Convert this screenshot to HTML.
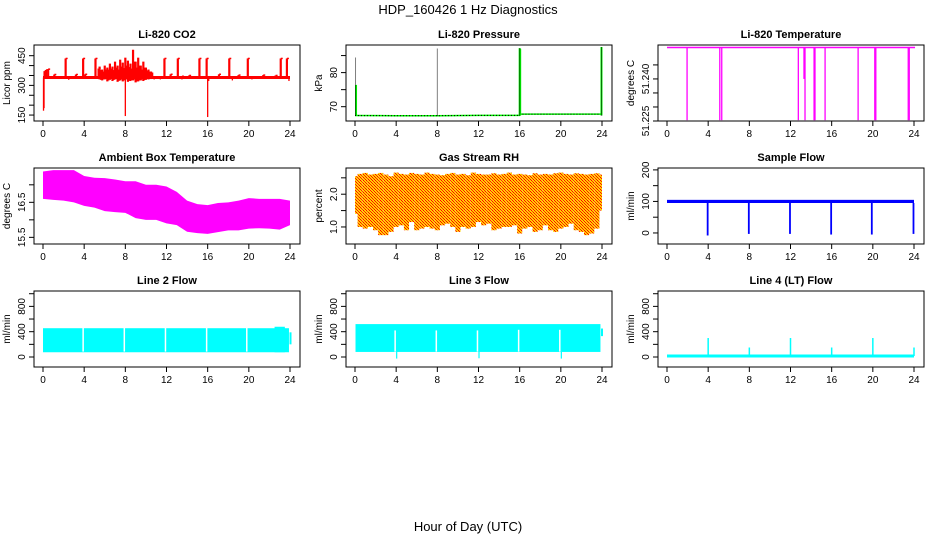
<!DOCTYPE html>
<html><head><meta charset="utf-8"><style>
html,body{margin:0;padding:0;background:#fff;}
svg{display:block;font-family:"Liberation Sans",Arial,sans-serif;}
</style></head><body>
<svg id="chart" width="936" height="540" viewBox="0 0 936 540" xmlns="http://www.w3.org/2000/svg">
<defs>
<pattern id="rhpat" width="3" height="3" patternUnits="userSpaceOnUse">
<rect width="3" height="3" fill="#ffd000"/><rect x="0" y="0" width="1" height="1" fill="#ff0000"/><rect x="1" y="1" width="1" height="1" fill="#ff2000"/><rect x="2" y="2" width="1" height="1" fill="#ff0000"/>
</pattern>
</defs>
<text x="468" y="14" text-anchor="middle" font-size="13">HDP_160426  1 Hz Diagnostics</text>
<text x="468" y="531" text-anchor="middle" font-size="13">Hour of Day (UTC)</text>
</svg>
<script>
// ---------- data ----------
const xTickHours = [0,4,8,12,16,20,24];

const co2Base = [340];
const co2SpikeHours = [0.15,0.3,0.5,1.1,2.2,3.2,3.9,4.1,5.1,5.4,6.3,11.8,12.4,13.1,13.5,14.2,15.2,15.9,17.1,18.1,19.0,19.9,21.4,22.6,23.1,23.7];
const co2SpikeValues = [372,378,382,355,436,355,436,356,436,385,376,436,356,436,346,350,436,436,356,436,352,436,352,350,436,436];
const co2DipHours = [0.05,0.1,2.5,5.6,8.0,10.8,11.4,13.5,16.0,16.1,18.4,20.3,23.9];
const co2DipValues = [172,185,328,328,145,330,330,330,140,322,325,330,322];
const co2NoiseHours = [5.5,5.75,6,6.25,6.5,6.75,7,7.25,7.5,7.75,8,8.25,8.5,8.75,9,9.25,9.5,9.75,10,10.25,10.5];
const co2NoiseTop = [395,380,400,390,410,395,420,400,430,415,440,425,410,480,420,440,400,420,390,380,370];
const co2NoiseBottom = [330,325,330,320,328,322,330,318,325,320,328,318,322,325,315,320,325,322,328,330,332];

const presBaseHours = [0,4,8,12,16,16.1,20,24];
const presBaseValues = [67.4,67.35,67.35,67.45,67.45,67.8,67.8,67.8];
const presSpikeHours = [0.05,8.0,16.0,23.95];
const presSpikeValues = [84.5,87.0,87.2,87.5];
const presGreenHours = [0.1,16.0,16.05,23.95];
const presGreenValues = [76.4,87.2,87.0,87.5];

const tempBase = [51.2512];
const tempDropHours = [1.95,5.13,5.32,12.76,13.31,13.41,14.29,14.38,15.36,18.57,20.19,20.29,23.44,23.54];
const tempDropValues = [51.2253,51.2253,51.2253,51.2253,51.2400,51.2253,51.2253,51.2253,51.2253,51.2253,51.2253,51.2253,51.2253,51.2253];

const ambHours = [0,1,2,3,4,5,6,7,8,9,10,11,12,13,14,15,16,17,18,19,20,21,22,23,24];
const ambUpper = [17.38,17.42,17.42,17.42,17.25,17.2,17.19,17.15,17.1,17.1,17.0,17.0,16.95,16.8,16.55,16.45,16.42,16.48,16.5,16.55,16.62,16.6,16.6,16.6,16.55];
const ambLower = [16.6,16.57,16.55,16.5,16.4,16.35,16.25,16.22,16.2,16.05,16.0,16.0,15.9,15.85,15.66,15.62,15.6,15.65,15.7,15.7,15.75,15.76,15.75,15.72,15.85];

const rhMax = [2.55,2.62,2.65,2.6,2.62,2.65,2.6,2.55,2.66,2.62,2.6,2.65,2.62,2.6,2.66,2.62,2.6,2.58,2.62,2.65,2.6,2.62,2.58,2.66,2.62,2.6,2.6,2.64,2.6,2.62,2.66,2.6,2.62,2.6,2.58,2.64,2.6,2.62,2.6,2.64,2.66,2.62,2.6,2.64,2.62,2.6,2.62,2.64,2.6];
const rhMin = [1.4,1.0,0.95,1.0,0.9,0.75,0.75,0.85,1.0,1.05,0.9,1.15,0.9,0.95,1.0,0.95,0.9,1.05,1.1,1.0,0.85,1.0,0.95,1.0,1.15,1.05,1.1,0.9,0.95,1.0,1.0,1.05,0.8,0.95,1.0,0.85,0.9,1.05,0.9,0.85,0.95,1.0,1.1,0.9,0.85,0.75,0.8,0.95,1.5];

const sfBandTop = [105];
const sfBandBottom = [95];
const sfDropHours = [3.95,7.95,11.95,15.95,19.9,23.95];
const sfDropValues = [-8,-3,-3,-5,-5,-3];

const l2Start = [0]; const l2End = [23.9];
const l2Top = [455]; const l2Bottom = [75];
const l2GapHours = [3.9,7.9,11.9,15.9,19.8];
const l2GapTop = [460,460,460,460,460];
const l2BumpHours = [22.5,23.5]; const l2BumpValue = [478];
const l2TailHour = [24.05]; const l2TailRange = [200,390];

const l3Start = [0.05]; const l3End = [23.85];
const l3Top = [520]; const l3Bottom = [80];
const l3GapHours = [3.9,7.9,11.9,15.9,19.9];
const l3GapTop = [420,420,420,430,430];
const l3DipHours = [4.0,12.0,20.0];
const l3DipValues = [-25,-20,-25];
const l3TailHour = [24.0]; const l3TailRange = [330,450];

const l4Base = [15];
const l4SpikeHours = [4,8,12,16,20,24];
const l4SpikeValues = [300,150,300,150,300,150];

// ---------- layout ----------
const NS = "http://www.w3.org/2000/svg";
const svg = document.getElementById('chart');
const colLeft = [34,346,658], boxW = 266;
const rowTop = [45,168,291], boxH = 76;
function mk(tag, attrs, parent){
  const e = document.createElementNS(NS, tag);
  for (const k in attrs) e.setAttribute(k, attrs[k]);
  (parent||svg).appendChild(e);
  return e;
}
function makePanel(col,row,title,ylab,dom,yTicks,yLabels,name){
  const g = mk('g',{});
  
  
  const L = colLeft[col], T = rowTop[row], B = T+boxH;
  const xs = h => L + 9 + h*(247/24);
  const ys = v => B - (v-dom[0])/(dom[1]-dom[0])*boxH;
  const plot = mk('g',{},g);
  
  
  const frame = mk('g',{},g);
  const box = mk('rect',{x:L,y:T,width:boxW,height:boxH,fill:'none',stroke:'#000','stroke-width':1},frame);
  
  
  const t = mk('text',{x:L+boxW/2,y:T-7,'text-anchor':'middle','font-size':11,'font-weight':'bold'},frame);
  t.textContent = title;
  
  
  const yl = mk('text',{transform:`translate(${L-24},${T+boxH/2}) rotate(-90)`,'text-anchor':'middle','font-size':10},frame);
  yl.textContent = ylab;
  
  
  xTickHours.forEach(h=>{
    const tk = mk('line',{x1:xs(h),x2:xs(h),y1:B,y2:B+5,stroke:'#000'},frame);
    
    
    if (row===0) {
      const tl = mk('text',{x:xs(h),y:B+16,'text-anchor':'middle','font-size':10},frame);
      tl.textContent = h;
      
      
    }
  });
  yTicks.forEach(v=>{
    const tk = mk('line',{x1:L-5,x2:L,y1:ys(v),y2:ys(v),stroke:'#000'},frame);
    
    
  });
  yLabels.forEach(v=>{
    const tl = mk('text',{transform:`translate(${L-9},${ys(v)}) rotate(-90)`,'text-anchor':'middle','font-size':10},frame);
    tl.textContent = v;
    
    
  });
  return {xs,ys,plot,L,T,B};
}
function vline(p,h,v1,v2,color,w,nm,extra){
  const a = {x1:p.xs(h),x2:p.xs(h),y1:p.ys(v1),y2:p.ys(v2),stroke:color,'stroke-width':w||1.2};
  if (extra) Object.assign(a, extra);
  const e = mk('line',a,p.plot);
  
  
  return e;
}
function band(p,x1,x2,v1,v2,fill,nm){
  const e = mk('rect',{x:p.xs(x1),y:p.ys(v2),width:p.xs(x2)-p.xs(x1),height:p.ys(v1)-p.ys(v2),fill:fill},p.plot);
  
  
  return e;
}
function addXLabels(p,name){
  xTickHours.forEach(h=>{
    const tl = mk('text',{x:p.xs(h),y:p.B+16,'text-anchor':'middle','font-size':10});
    tl.textContent = h;
    
    
  });
}

// ---------- CO2 ----------
{
  const p = makePanel(0,0,'Li-820 CO2','Licor ppm',[120,504],[150,200,250,300,350,400,450],[150,300,450],'co2');
  const red = '#ff0000';
  co2NoiseHours.forEach((h,i)=>{
    vline(p,h,co2NoiseBottom[i],co2NoiseTop[i],red,2.2,'co2-noise-bar');
    vline(p,h+0.12,co2NoiseBottom[i]+5,(co2NoiseTop[i]+co2Base[0])/2+10,red,2,'co2-noise-bar');
  });
  const base = mk('line',{x1:p.xs(0),x2:p.xs(24),y1:p.ys(co2Base[0]),y2:p.ys(co2Base[0]),stroke:red,'stroke-width':3},p.plot);
  
  
  co2SpikeHours.forEach((h,i)=>{
    vline(p,h,co2Base[0],co2SpikeValues[i],red,2.2,'co2-spike');
    const c = mk('line',{x1:p.xs(h),x2:p.xs(h)+2,y1:p.ys(co2SpikeValues[i]),y2:p.ys(co2SpikeValues[i]),stroke:red,'stroke-width':1.5},p.plot);
    
    
  });
  co2DipHours.forEach((h,i)=>vline(p,h,co2Base[0],co2DipValues[i],red,1.3,'co2-dip'));
}
// ---------- Pressure ----------
{
  const p = makePanel(1,0,'Li-820 Pressure','kPa',[65.8,88.1],[70,75,80,85],[70,80],'pressure');
  const pts = presBaseHours.map((h,i)=>p.xs(h)+','+p.ys(presBaseValues[i])).join(' ');
  const g = mk('polyline',{points:pts,fill:'none',stroke:'#00ee00','stroke-width':1.5},p.plot);
  
  
  const k = mk('polyline',{points:pts,fill:'none',stroke:'#000','stroke-width':1,'stroke-dasharray':'1,2'},p.plot);
  
  
  presGreenHours.forEach((h,i)=>vline(p,h,presBaseValues[0],presGreenValues[i],'#00ee00',2,'pressure-spike-green'));
  presSpikeHours.forEach((h,i)=>vline(p,h,presBaseValues[0],presSpikeValues[i],'#000',1,'pressure-spike-dotted',{'stroke-dasharray':'1,1'}));
}
// ---------- Li-820 Temperature ----------
{
  const p = makePanel(2,0,'Li-820 Temperature','degrees C',[51.225,51.2521],[51.225,51.230,51.235,51.240,51.245],['51.225','51.240'],'li820-temp');
  const base = mk('line',{x1:p.xs(0),x2:p.xs(24.1),y1:p.ys(tempBase[0]),y2:p.ys(tempBase[0]),stroke:'#ff00ff','stroke-width':1.5},p.plot);
  
  
  tempDropHours.forEach((h,i)=>vline(p,h,tempBase[0],tempDropValues[i],'#ff00ff',1.3,'li820-temp-drop'));
}
// ---------- Ambient ----------
{
  const p = makePanel(0,1,'Ambient Box Temperature','degrees C',[15.31,17.48],[15.5,16,16.5,17],[15.5,16.5],'ambient-temp');
  addXLabels(p,'ambient-temp');
  let up = ambHours.map((h,i)=>p.xs(h)+','+p.ys(ambUpper[i]));
  let lo = ambHours.map((h,i)=>p.xs(h)+','+p.ys(ambLower[i])).reverse();
  const poly = mk('polygon',{points:up.concat(lo).join(' '),fill:'#ff00ff'},p.plot);
  
  
}
// ---------- RH ----------
{
  const p = makePanel(1,1,'Gas Stream RH','percent',[0.48,2.8],[1.0,1.5,2.0,2.5],['1.0','2.0'],'rh');
  addXLabels(p,'rh');
  rhMax.forEach((v,i)=>{
    const h = i*0.5;
    const x1 = Math.max(0,h-0.25), x2 = Math.min(24,h+0.25);
    band(p,x1,x2,rhMin[i],v,'url(#rhpat)','rh-bar');
  });
}
// ---------- Sample Flow ----------
{
  const p = makePanel(2,1,'Sample Flow','ml/min',[-35,206],[0,50,100,150,200],[0,100,200],'sample-flow');
  addXLabels(p,'sample-flow');
  band(p,0,24,sfBandBottom[0],sfBandTop[0],'#0000ff','sample-flow-band');
  sfDropHours.forEach((h,i)=>vline(p,h,sfBandBottom[0],sfDropValues[i],'#0000ff',1.8,'sample-flow-drop'));
}
// ---------- Line 2 ----------
{
  const p = makePanel(0,2,'Line 2 Flow','ml/min',[-158,1043],[0,200,400,600,800,1000],[0,400,800],'line2-flow');
  addXLabels(p,'line2-flow');
  band(p,l2Start[0],l2End[0],l2Bottom[0],l2Top[0],'#00ffff','line2-flow-band');
  band(p,l2BumpHours[0],l2BumpHours[1],l2Bottom[0],l2BumpValue[0],'#00ffff','line2-flow-bump');
  vline(p,l2TailHour[0],l2TailRange[0],l2TailRange[1],'#00ffff',2,'line2-flow-tail');
  l2GapHours.forEach((h,i)=>vline(p,h,l2Bottom[0]+10,l2GapTop[i],'#ffffff',1.5,'line2-flow-gap'));
}
// ---------- Line 3 ----------
{
  const p = makePanel(1,2,'Line 3 Flow','ml/min',[-158,1043],[0,200,400,600,800,1000],[0,400,800],'line3-flow');
  addXLabels(p,'line3-flow');
  band(p,l3Start[0],l3End[0],l3Bottom[0],l3Top[0],'#00ffff','line3-flow-band');
  vline(p,l3TailHour[0],l3TailRange[0],l3TailRange[1],'#00ffff',2,'line3-flow-tail');
  l3GapHours.forEach((h,i)=>vline(p,h,l3Bottom[0]+5,l3GapTop[i],'#ffffff',1.5,'line3-flow-gap'));
  l3DipHours.forEach((h,i)=>vline(p,h+0.05,l3Bottom[0],l3DipValues[i],'#00ffff',1.2,'line3-flow-dip'));
}
// ---------- Line 4 ----------
{
  const p = makePanel(2,2,'Line 4 (LT) Flow','ml/min',[-158,1043],[0,200,400,600,800,1000],[0,400,800],'line4-flow');
  addXLabels(p,'line4-flow');
  const base = mk('line',{x1:p.xs(0),x2:p.xs(24),y1:p.ys(l4Base[0]),y2:p.ys(l4Base[0]),stroke:'#00ffff','stroke-width':3},p.plot);
  
  
  l4SpikeHours.forEach((h,i)=>vline(p,h,l4Base[0],l4SpikeValues[i],'#00ffff',1.5,'line4-flow-spike'));
}
</script>
</body></html>
